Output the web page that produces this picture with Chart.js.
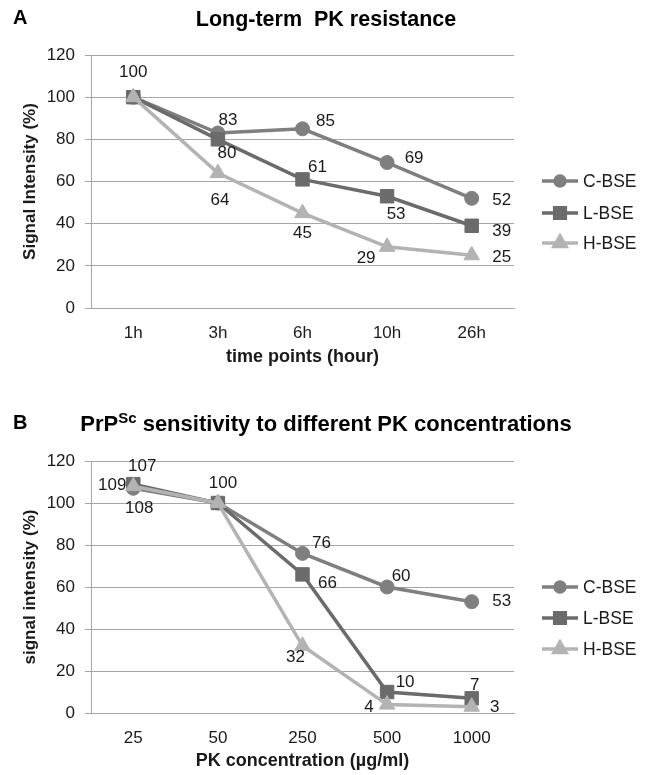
<!DOCTYPE html>
<html>
<head>
<meta charset="utf-8">
<script src="https://cdn.jsdelivr.net/npm/chart.js@4.4.1/dist/chart.umd.min.js"></script>
<style>
    body { margin: 0; background: #fff; }
    .panel { position: absolute; left: 0; }
</style>
</head>
<body>
<div class="panel" style="top:0"><canvas id="chartA" width="652" height="375"></canvas></div>
<div class="panel" style="top:375px"><canvas id="chartB" width="652" height="400"></canvas></div>
<script>
const seriesNames = ['C-BSE', 'L-BSE', 'H-BSE'];

const timePoints = ['1h', '3h', '6h', '10h', '26h'];
const timeC = [100, 83, 85, 69, 52];
const timeL = [100, 80, 61, 53, 39];
const timeH = [100, 64, 45, 29, 25];

const pkConcentrations = ['25', '50', '250', '500', '1000'];
const pkC = [107, 100, 76, 60, 53];
const pkL = [109, 100, 66, 10, 7];
const pkH = [108, 100, 32, 4, 3];

const yMin = 0, yMax = 120, yStep = 20;

// where each value label sits relative to its point (null = no label)
const labelOffsetsA = [
    [[0, -25], [10, -13], [23, -7], [27, -4], [30, 2]],
    [null, [9, 14], [15, -12], [9, 18], [30, 6]],
    [null, [2, 27], [0, 20], [-21, 11], [30, 2]]
];
const labelOffsetsB = [
    [[9, -22], [5, -20], [19, -10], [14, -11], [30, 0]],
    [[-21, 1], null, [25, 9], [18, -10], [3, -13]],
    [[6, 22], null, [-7, 12], [-18, 3], [23, 1]]
];

const FONT = "'Liberation Sans', Arial, sans-serif";
const TEXT = '#1a1a1a';
const colors = ['#7f7f7f', '#6b6b6b', '#b3b3b3'];
const pointStyles = ['circle', 'rect', 'triangle'];
const pointRadii = [7, 9.5, 9];
const legendRadii = [5, 7.5, 7];

const decoPlugin = {
    id: 'deco',
    afterDraw(chart, args, opts) {
        const ctx = chart.ctx;
        ctx.save();

        // value labels
        ctx.font = `17px ${FONT}`;
        ctx.fillStyle = TEXT;
        ctx.textAlign = 'center';
        ctx.textBaseline = 'middle';
        chart.data.datasets.forEach((ds, i) => {
            const meta = chart.getDatasetMeta(i);
            meta.data.forEach((pt, j) => {
                const off = opts.offsets[i][j];
                if (!off) return;
                ctx.fillText(String(ds.data[j]), pt.x + off[0], pt.y + off[1]);
            });
        });

        // legend
        ctx.textAlign = 'left';
        ctx.font = `17.5px ${FONT}`;
        chart.data.datasets.forEach((ds, i) => {
            const y = opts.legendY[i];
            ctx.strokeStyle = colors[i];
            ctx.lineWidth = 3.5;
            ctx.beginPath();
            ctx.moveTo(542, y);
            ctx.lineTo(578, y);
            ctx.stroke();
            ctx.fillStyle = colors[i];
            Chart.helpers.drawPoint(ctx, {
                pointStyle: pointStyles[i], radius: legendRadii[i], rotation: 0, borderWidth: 1
            }, 560, y);
            ctx.fillStyle = TEXT;
            ctx.fillText(seriesNames[i], 583, y + 1);
        });

        // panel letter + title
        ctx.fillStyle = '#000';
        ctx.font = `bold 20px ${FONT}`;
        ctx.textAlign = 'left';
        ctx.fillText(opts.letter, 13, opts.titleY - 2);
        const parts = opts.title;
        let total = 0;
        parts.forEach(p => {
            ctx.font = `bold ${p.size}px ${FONT}`;
            p.w = ctx.measureText(p.text).width;
            total += p.w;
        });
        let x = 326 - total / 2;
        parts.forEach(p => {
            ctx.font = `bold ${p.size}px ${FONT}`;
            ctx.fillText(p.text, x, opts.titleY + (p.rise || 0));
            x += p.w;
        });
        ctx.restore();
    }
};

function makeChart(id, labels, values, opts) {
    const canvas = document.getElementById(id);
    const H = canvas.height;
    return new Chart(canvas.getContext('2d'), {
        type: 'line',
        data: {
            labels: labels,
            datasets: values.map((v, i) => ({
                label: seriesNames[i],
                data: v,
                borderColor: colors[i],
                backgroundColor: colors[i],
                pointBackgroundColor: colors[i],
                pointBorderColor: colors[i],
                borderWidth: 3.5,
                pointStyle: pointStyles[i],
                pointRadius: pointRadii[i],
                pointBorderWidth: 1,
                tension: 0,
                order: 3 - i
            }))
        },
        options: {
            responsive: false,
            devicePixelRatio: 1,
            animation: false,
            layout: { padding: { left: 0, right: 652 - 514, top: opts.plotTop, bottom: 0 } },
            plugins: {
                legend: { display: false },
                title: { display: false },
                tooltip: { enabled: false },
                deco: opts.deco
            },
            scales: {
                x: {
                    offset: true,
                    grid: { display: false },
                    border: { display: true, color: '#a6a6a6', width: 1 },
                    ticks: { color: TEXT, font: { family: FONT, size: 17 }, padding: 7 },
                    title: {
                        display: true, text: opts.xTitle, color: TEXT,
                        font: { family: FONT, size: 18, weight: 'bold' },
                        padding: { top: 0, bottom: opts.xTitlePad }
                    },
                    afterFit: (s) => { s.height = H - opts.plotBottom; }
                },
                y: {
                    min: yMin, max: yMax,
                    ticks: { stepSize: yStep, color: TEXT, font: { family: FONT, size: 17 }, padding: 10 },
                    grid: { color: '#a6a6a6', lineWidth: 1, tickLength: 6 },
                    border: { display: true, color: '#a6a6a6', width: 1 },
                    title: {
                        display: true, text: opts.yTitle, color: TEXT,
                        font: { family: FONT, size: 17, weight: 'bold' },
                        padding: { top: 20, bottom: 0 }
                    },
                    afterFit: (s) => { s.width = 91; }
                }
            }
        },
        plugins: [decoPlugin]
    });
}

makeChart('chartA', timePoints, [timeC, timeL, timeH], {
    plotTop: 55, plotBottom: 308,
    xTitle: 'time points (hour)', xTitlePad: 7,
    yTitle: 'Signal Intensity (%)',
    deco: {
        offsets: labelOffsetsA,
        legendY: [181, 213, 243],
        letter: 'A', titleY: 20,
        title: [{ text: 'Long-term  PK resistance', size: 21.5 }]
    }
});

makeChart('chartB', pkConcentrations, [pkC, pkL, pkH], {
    plotTop: 86, plotBottom: 338,
    xTitle: 'PK concentration (\u00b5g/ml)', xTitlePad: 3,
    yTitle: 'signal intensity (%)',
    deco: {
        offsets: labelOffsetsB,
        legendY: [212, 243, 274],
        letter: 'B', titleY: 50,
        title: [
            { text: 'PrP', size: 22 },
            { text: 'Sc', size: 15, rise: -6 },
            { text: ' sensitivity to different PK concentrations', size: 22 }
        ]
    }
});
</script>
</body>
</html>
